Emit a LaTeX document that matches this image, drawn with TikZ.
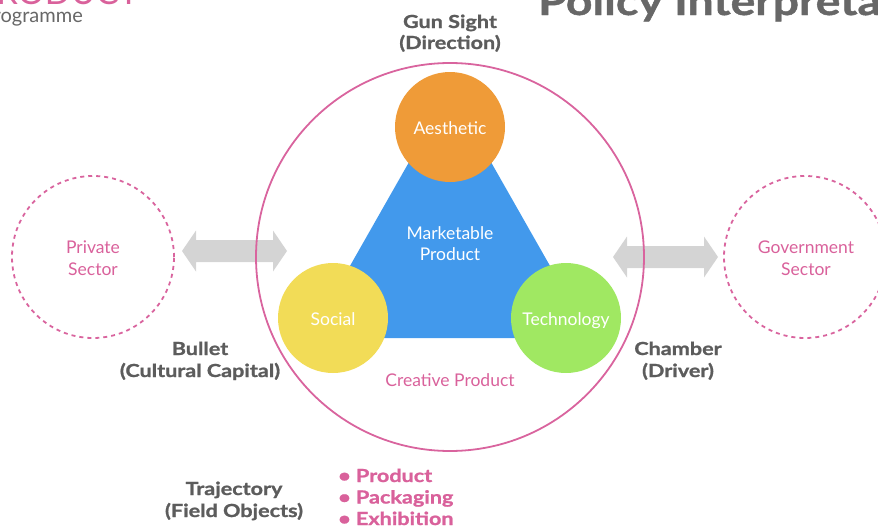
\documentclass[tikz,border=0pt]{standalone}
\usepackage{fontspec}
\setmainfont{Lato}
\newfontfamily\heavyfont[FakeBold=1.2,FakeStretch=1.2]{Lato}
\usetikzlibrary{calc}
\definecolor{pinkline}{HTML}{D9649E}
\definecolor{pinktext}{HTML}{D9619B}
\definecolor{graytext}{HTML}{5C5C5C}
\definecolor{titlegray}{HTML}{676767}
\definecolor{arrowgray}{HTML}{D4D4D4}
\definecolor{tribluefill}{HTML}{4299EC}
\definecolor{orangefill}{HTML}{EF9B38}
\definecolor{yellowfill}{HTML}{F2DC57}
\definecolor{greenfill}{HTML}{A0E862}
\tikzset{
  reg/.style={inner sep=0pt, anchor=base, font=\fontsize{17.5}{17.5}\selectfont},
  pillar/.style={circle, minimum size=110pt, inner sep=0pt},
  whitetext/.style={reg, text=white},
  pinklabel/.style={reg, text=pinktext},
  sector/.style={circle, draw=pinkline, dash pattern=on 4pt off 4pt, line width=1.8pt, minimum size=162pt, inner sep=0pt},
  graylabel/.style={inner sep=0pt, anchor=base, text=graytext, font=\heavyfont\bfseries\fontsize{18}{18}\selectfont},
  biarrow/.pic={\fill[arrowgray] (-52.5,0) -- ++(14,20.5) -- ++(0,-9.5) -- ++(77,0) -- ++(0,9.5) -- ++(14,-20.5) -- ++(-14,-20.5) -- ++(0,9.5) -- ++(-77,0) -- ++(0,-9.5) -- cycle;},
}
\begin{document}
\begin{tikzpicture}[x=1pt,y=-1pt]
\useasboundingbox (0,0) rectangle (878,530);
% header texts (cropped by the page edge)
\node[anchor=base west, text=pinktext, inner sep=0pt, font=\fontsize{34}{34}\selectfont] (hdr) at (-24,5) {PRODUCT};
\node[anchor=base east, text=titlegray, inner sep=0pt, font=\fontsize{20}{20}\selectfont] (prog) at (83,22) {Programme};
\node[anchor=base west, text=titlegray, inner sep=0pt, font=\heavyfont\bfseries\fontsize{38.7}{38.7}\selectfont] (title) at (538,15) {Policy Interpretation};
% connector arrows (behind the circle line)
\coordinate (la) at (234.5,251);
\coordinate (ra) at (665.5,257);
\pic at (la) {biarrow};
\pic at (ra) {biarrow};
% big circle
\node[circle, draw=pinkline, line width=1.8pt, minimum size=388pt, inner sep=0pt] (big) at (450,257) {};
% triangle
\coordinate (tA) at (450,90);
\coordinate (tB) at (309,338);
\coordinate (tC) at (591,338);
\fill[tribluefill, rounded corners=2pt] (tA) -- (tB) -- (tC) -- cycle;
\node[whitetext] (mp1) at (450,239) {Marketable};
\node[whitetext] (mp2) at (450,260) {Product};
% pillars
\node[pillar, fill=orangefill] (aes) at (450,127) {};
\node[pillar, fill=yellowfill] (soc) at (333,318) {};
\node[pillar, fill=greenfill] (tech) at (566,318) {};
\node[whitetext] (aest) at (450,134) {Aesthetic};
\node[whitetext] (soct) at (333,325) {Social};
\node[whitetext] (techt) at (566,325) {Technology};
\node[pinklabel] (cp) at (450,386) {Creative Product};
% sectors
\node[sector] (priv) at (93,257) {};
\node[sector] (gov) at (805,257) {};
\node[pinklabel] (priv1) at (93,253) {Private};
\node[pinklabel] (priv2) at (93,275) {Sector};
\node[pinklabel] (gov1) at (806,253) {Government};
\node[pinklabel] (gov2) at (806,275) {Sector};
% gray labels
\node[graylabel] (gun1) at (450,28) {Gun Sight};
\node[graylabel] (gun2) at (450,49) {(Direction)};
\node[graylabel] (bul1) at (200,355) {Bullet};
\node[graylabel] (bul2) at (200,377) {(Cultural Capital)};
\node[graylabel] (cha1) at (678,355) {Chamber};
\node[graylabel] (cha2) at (678,377) {(Driver)};
\node[graylabel] (tra1) at (234,495) {Trajectory};
\node[graylabel] (tra2) at (234,517) {(Field Objects)};
% bullet list
\node[graylabel, anchor=base west, text=pinktext] (li1) at (338,482) {• Product};
\node[graylabel, anchor=base west, text=pinktext] (li2) at (338,503.5) {• Packaging};
\node[graylabel, anchor=base west, text=pinktext] (li3) at (338,525) {• Exhibition};
\end{tikzpicture}
\end{document}
